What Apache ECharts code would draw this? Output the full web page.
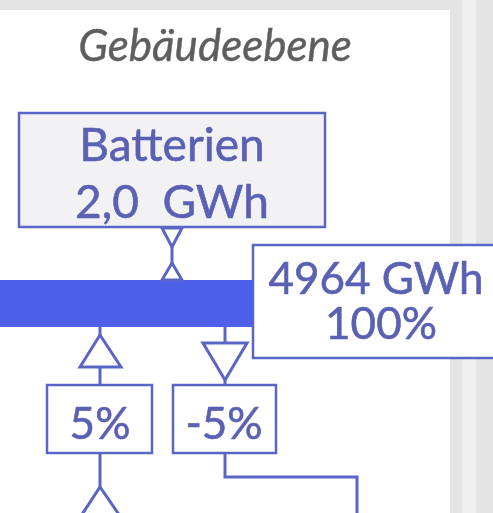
<!DOCTYPE html>
<html>
<head>
<meta charset="utf-8">
<script src="https://cdn.jsdelivr.net/npm/echarts@6/dist/echarts.min.js"></script>
<style>
  html, body { margin: 0; padding: 0; background: #e4e4e4; }
  #chart { width: 493px; height: 513px; }
</style>
</head>
<body>
<div id="chart"></div>
<script>
// diagram texts / values
const panelTitle = 'Gebäudeebene'
const storageLines = ['Batterien', '2,0  GWh']
const busLines = ['4964 GWh', '100%']
const flowShares = ['5%', '-5%']

const blue = '#5a66c6'
const textBlue = '#5a61b4'
const busBlue = '#4e5fea'
const font = 'Lato, "Open Sans", sans-serif'

const line = (pts, z = 5) => ({
  type: 'polyline', z,
  shape: { points: pts },
  style: { stroke: blue, lineWidth: 3, fill: null }
})
const tri = (pts) => ({
  type: 'polygon', z: 6,
  shape: { points: pts },
  style: { stroke: blue, lineWidth: 3, fill: '#fff' }
})
const label = (txt, x, y, size) => ({
  type: 'text', z: 10, x, y,
  style: {
    text: txt, fill: textBlue, font: `${size}px ${font}`,
    stroke: textBlue, lineWidth: 0.6,
    align: 'center', verticalAlign: 'middle'
  }
})
const box = (x, y, w, h, fill) => ({
  type: 'rect', z: 4,
  shape: { x, y, width: w, height: h },
  style: { fill, stroke: blue, lineWidth: 2.5 }
})

const chart = echarts.init(document.getElementById('chart'))

chart.setOption({
  backgroundColor: '#e4e4e4',
  graphic: [
    // panel
    { type: 'rect', z: 0, shape: { x: 0, y: 10, width: 450, height: 510 }, style: { fill: '#fff' } },
    { type: 'rect', z: 0, shape: { x: 462, y: 0, width: 14, height: 513 }, style: { fill: '#efefef' } },
    {
      type: 'text', z: 10, x: 215, y: 47,
      style: {
        text: panelTitle, fill: '#5e5e5e', font: `italic 44px ${font}`,
        stroke: '#5e5e5e', lineWidth: 0.4,
        align: 'center', verticalAlign: 'middle'
      }
    },

    // storage box
    box(19, 113, 306, 114, '#f2f2f4'),
    label(storageLines[0], 172, 146, 46),
    label(storageLines[1], 172, 203, 46),

    // hourglass connector
    tri([[162, 228], [182, 228], [172, 247]]),
    line([[172, 247], [172, 264]]),
    tri([[172, 263], [162, 280], [182, 280]]),

    // bus bar
    { type: 'rect', z: 3, shape: { x: 0, y: 280, width: 256, height: 47 }, style: { fill: busBlue } },
    box(253, 245, 260, 113, '#fff'),
    label(busLines[0], 376, 280, 44),
    label(busLines[1], 381, 325, 44),

    // flows below the bus
    line([[100, 327], [100, 335]]),
    tri([[100, 335], [80, 367], [121, 367]]),
    line([[100, 367], [100, 386]]),
    line([[225, 327], [225, 343]]),
    tri([[203, 343], [247, 343], [225, 380]]),
    line([[225, 380], [225, 386]]),

    box(47, 385, 105, 68, '#fff'),
    label(flowShares[0], 100, 425, 44),
    box(173, 385, 103, 68, '#fff'),
    label(flowShares[1], 224, 425, 44),

    line([[100, 453], [100, 487]]),
    line([[81, 516], [100, 487], [120, 516]]),
    line([[225, 453], [225, 477], [357, 477], [357, 520]])
  ]
})
</script>
</body>
</html>
